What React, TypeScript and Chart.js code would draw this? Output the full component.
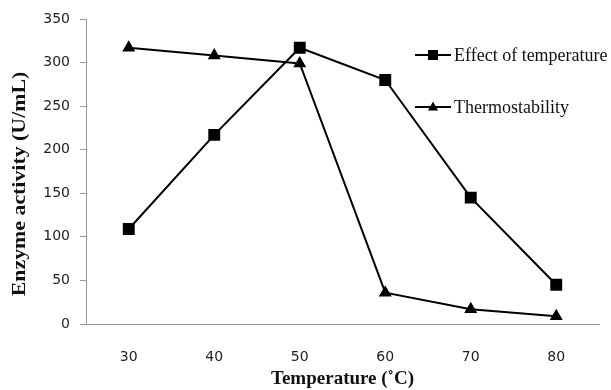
import React, { useEffect, useRef } from "react";
import { Chart, registerables } from "chart.js";

Chart.register(...registerables);

const categories = ["30", "40", "50", "60", "70", "80"];
const effectOfTemperature = [109, 217, 317, 280, 145, 45];
const thermostability = [317, 308, 299, 36, 17, 9];
const seriesNames = ["Effect of temperature", "Thermostability"];
const yTitle = "Enzyme activity (U/mL)";
const xTitle = "Temperature (\u02daC)";

const legendPlugin = {
  id: "customLegend",
  afterDraw(chart: any) {
    const ctx = chart.ctx;
    const items = [
      { name: seriesNames[0], style: "rect", y: 55 },
      { name: seriesNames[1], style: "triangle", y: 107 },
    ];
    ctx.save();
    items.forEach((it) => {
      ctx.strokeStyle = "#000";
      ctx.lineWidth = 2;
      ctx.beginPath();
      ctx.moveTo(415, it.y);
      ctx.lineTo(451, it.y);
      ctx.stroke();
      ctx.fillStyle = "#000";
      const cx = 433;
      if (it.style === "rect") {
        ctx.fillRect(cx - 5, it.y - 5, 10, 10);
      } else {
        ctx.beginPath();
        ctx.moveTo(cx, it.y - 5.5);
        ctx.lineTo(cx + 5, it.y + 3.5);
        ctx.lineTo(cx - 5, it.y + 3.5);
        ctx.closePath();
        ctx.fill();
      }
      ctx.font = "18px 'Liberation Serif'";
      ctx.textBaseline = "middle";
      ctx.textAlign = "left";
      ctx.fillStyle = "#111";
      ctx.fillText(it.name, 454, it.y + 1);
    });
    // y axis title, drawn manually to match the reference placement
    ctx.translate(20, 184);
    ctx.rotate(-Math.PI / 2);
    ctx.scale(1.15, 1);
    ctx.font = "bold 19px 'Liberation Serif'";
    ctx.textAlign = "center";
    ctx.textBaseline = "middle";
    ctx.fillStyle = "#111";
    ctx.fillText(yTitle, 0, 0);
    ctx.restore();
  },
};

export default function App() {
  const ref = useRef<HTMLCanvasElement>(null);
  useEffect(() => {
    if (!ref.current) return;
    const chart = new Chart(ref.current, {
      type: "line",
      data: {
        labels: categories,
        datasets: [
          {
            label: seriesNames[0],
            data: effectOfTemperature,
            borderColor: "#000",
            backgroundColor: "#000",
            borderWidth: 2,
            pointStyle: "rect",
            pointRadius: 7,
            tension: 0,
          },
          {
            label: seriesNames[1],
            data: thermostability,
            borderColor: "#000",
            backgroundColor: "#000",
            borderWidth: 2,
            pointStyle: "triangle",
            pointRadius: 5.5,
            tension: 0,
          },
        ],
      },
      options: {
        animation: false,
        responsive: false,
        devicePixelRatio: 1,
        layout: { padding: { top: 19, right: 12, bottom: 0, left: 0 } },
        plugins: {
          legend: { display: false },
          tooltip: { enabled: false },
        },
        scales: {
          x: {
            offset: true,
            grid: { display: false },
            border: { display: true, color: "#999", width: 1 },
            ticks: {
              padding: 17,
              color: "#222",
              font: { family: "'DejaVu Sans'", size: 14 },
            },
            title: {
              display: true,
              text: xTitle,
              color: "#111",
              font: { family: "'Liberation Serif'", size: 19, weight: "bold" },
              padding: { top: 0, bottom: 0 },
            },
            afterFit(scale: any) {
              scale.height = 66;
            },
          },
          y: {
            min: 0,
            max: 350,
            grid: {
              drawOnChartArea: false,
              drawTicks: true,
              tickLength: 6,
              color: "#999",
            },
            border: { display: true, color: "#999", width: 1 },
            ticks: {
              stepSize: 50,
              padding: 10,
              color: "#222",
              font: { family: "'DejaVu Sans'", size: 14 },
            },
            title: { display: false },
            afterFit(scale: any) {
              scale.width = 86;
            },
          },
        },
      },
      plugins: [legendPlugin],
    });
    return () => chart.destroy();
  }, []);
  return (
    <div style={{ position: "absolute", left: 0, top: 0, width: 611, height: 390, background: "#fff" }}>
      <canvas ref={ref} width={611} height={390} style={{ display: "block" }} />
    </div>
  );
}
